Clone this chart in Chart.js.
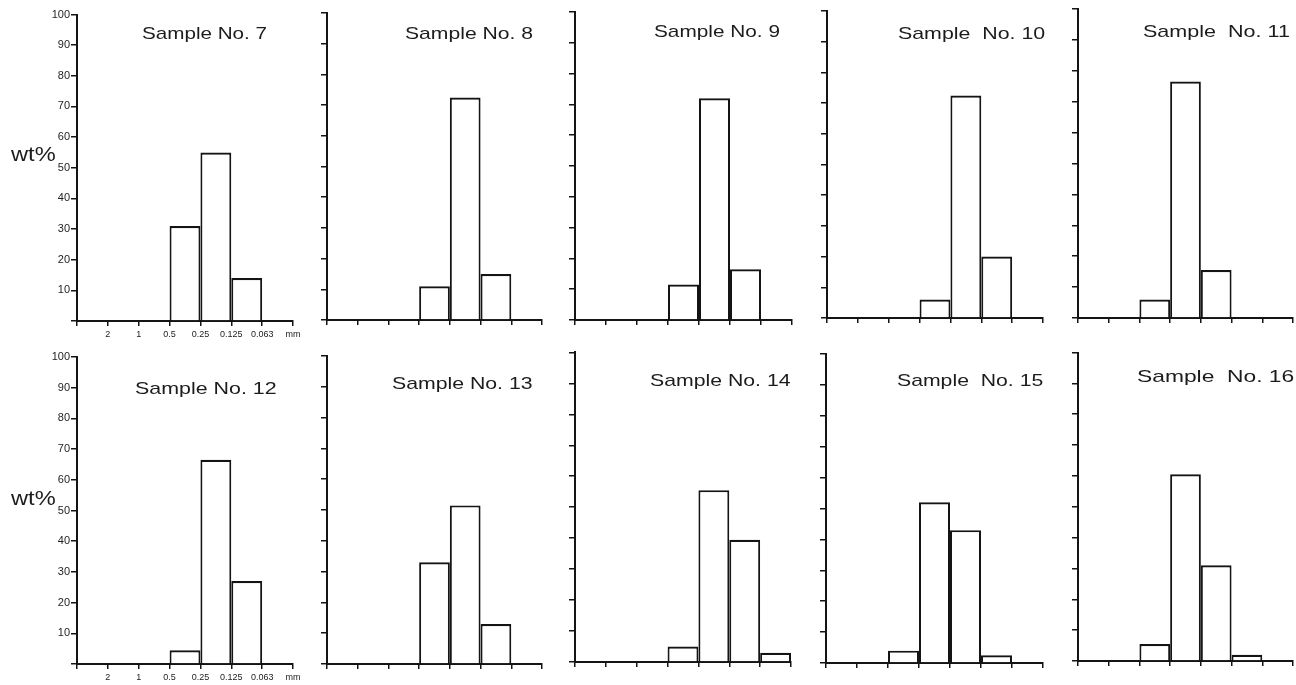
<!DOCTYPE html>
<html>
<head>
<meta charset="utf-8">
<script src="https://cdn.jsdelivr.net/npm/chart.js@4"></script>
<style>
html,body{margin:0;padding:0;background:#fff;overflow:hidden;width:1296px;height:685px}
#stage{position:relative;width:1296px;height:685px;background:#fff;overflow:hidden}
#stage canvas{position:absolute}
.txt{position:absolute;font-family:'Liberation Sans',Arial,Helvetica,sans-serif;color:#1c1c1c;white-space:pre;line-height:1;transform-origin:0 50%}
</style>
</head>
<body>
<div id="stage"></div>
<script>
// ---------- data ----------
const GRAIN_BINS = ['>2', '2–1', '1–0.5', '0.5–0.25', '0.25–0.125', '0.125–0.063', '<0.063'];
const BOUNDARY_TICK_LABELS = ['', '2', '1', '0.5', '0.25', '0.125', '0.063', 'mm'];
const Y_AXIS_LABEL = 'wt%';
const SAMPLE_TITLES = ['Sample No. 7', 'Sample No. 8', 'Sample No. 9', 'Sample  No. 10', 'Sample  No. 11',
                       'Sample No. 12', 'Sample No. 13', 'Sample No. 14', 'Sample  No. 15', 'Sample  No. 16'];
const sample7  = [0, 0, 0, 31,   55,   14,   0];
const sample8  = [0, 0, 0, 11,   72.5, 15,   0];
const sample9  = [0, 0, 0, 11.5, 72,   16.5, 0];
const sample10 = [0, 0, 0, 6,    72.5, 20,   0];
const sample11 = [0, 0, 6, 76.5, 15.5, 0,    0];
const sample12 = [0, 0, 0, 4.5,  66.5, 27,   0];
const sample13 = [0, 0, 0, 33,   51.5, 13,   0];
const sample14 = [0, 0, 0, 5,    55.5, 39.5, 3];
const sample15 = [0, 0, 4, 52,   43,   2.5,  0];
const sample16 = [0, 0, 5.5, 60.5, 31, 2,    0];
const SAMPLE_VALUES = [sample7, sample8, sample9, sample10, sample11,
                       sample12, sample13, sample14, sample15, sample16];

// ---------- layout (pixel geometry of each panel) ----------
const PANEL_LAYOUT = [
  {x0: 77,   x1: 293,  y100: 14.5, y0: 321, rowTop: 0,   tl: 142,  tr: 267,  tc: 35},
  {x0: 327,  x1: 542,  y100: 13,   y0: 320, rowTop: 0,   tl: 405,  tr: 533,  tc: 35},
  {x0: 575,  x1: 792,  y100: 12,   y0: 320, rowTop: 0,   tl: 654,  tr: 780,  tc: 33},
  {x0: 827,  x1: 1043, y100: 11,   y0: 318, rowTop: 0,   tl: 898,  tr: 1045, tc: 35},
  {x0: 1078, x1: 1293, y100: 9,    y0: 318, rowTop: 0,   tl: 1143, tr: 1290, tc: 33},
  {x0: 77,   x1: 293,  y100: 357,  y0: 664, rowTop: 340, tl: 135,  tr: 276,  tc: 390},
  {x0: 327,  x1: 542,  y100: 356,  y0: 664, rowTop: 340, tl: 392,  tr: 532,  tc: 385},
  {x0: 575,  x1: 791,  y100: 352.4,y0: 662, rowTop: 340, tl: 650,  tr: 790,  tc: 382},
  {x0: 826,  x1: 1043, y100: 354,  y0: 663, rowTop: 340, tl: 897,  tr: 1043, tc: 382},
  {x0: 1078, x1: 1293, y100: 352.5,y0: 661, rowTop: 340, tl: 1137, tr: 1294, tc: 378}
];
const WT_LABELS = [{l: 11, r: 56, c: 153.3}, {l: 11, r: 56, c: 497}];

const FONT = "'Liberation Sans', Arial, Helvetica, sans-serif";
const INK = '#141414';
const YW = 72, XH = 22, RP = 14;

const stage = document.getElementById('stage');

function addText(text, size, left, right, centerY, offset) {
  const d = document.createElement('div');
  d.className = 'txt';
  d.textContent = text;
  d.style.fontSize = size + 'px';
  d.style.left = left + 'px';
  d.style.top = (centerY - offset) + 'px';
  stage.appendChild(d);
  const w = d.offsetWidth;
  d.style.transform = 'scaleX(' + ((right - left) / w).toFixed(3) + ')';
}

PANEL_LAYOUT.forEach((p, i) => {
  const firstCol = (i % 5) === 0;
  const cv = document.createElement('canvas');
  const W = YW + (p.x1 - p.x0) + RP;
  const H = Math.ceil(p.y0 - p.rowTop + XH + 2);
  cv.width = W; cv.height = H;
  cv.style.left = (p.x0 - YW) + 'px';
  cv.style.top = p.rowTop + 'px';
  cv.style.width = W + 'px'; cv.style.height = H + 'px';
  stage.appendChild(cv);

  const values = SAMPLE_VALUES[i];
  new Chart(cv, {
    type: 'bar',
    data: {
      datasets: [{
        label: SAMPLE_TITLES[i],
        data: values.map((v, k) => ({x: k + 0.5, y: v, bin: GRAIN_BINS[k]})),
        backgroundColor: '#ffffff',
        borderColor: INK,
        borderWidth: {top: 2.2, left: 2, right: 2, bottom: 0},
        borderSkipped: false,
        barPercentage: 1,
        categoryPercentage: 1,
        inflateAmount: 0
      }]
    },
    options: {
      responsive: false,
      maintainAspectRatio: false,
      animation: false,
      devicePixelRatio: 1,
      layout: {padding: {left: 0, right: RP, top: p.y100 - p.rowTop, bottom: H - (p.y0 - p.rowTop) - XH}},
      plugins: {legend: {display: false}, tooltip: {enabled: false}, title: {display: false}},
      scales: {
        x: {
          type: 'linear', min: 0, max: 7, offset: false,
          grid: {offset: false, drawOnChartArea: false, drawTicks: true, tickLength: 5, color: INK, lineWidth: 1.5},
          border: {display: true, color: INK, width: 2},
          ticks: {display: firstCol, stepSize: 1, autoSkip: false, maxRotation: 0, padding: 3,
                  color: '#222', font: {family: FONT, size: 9},
                  callback: (v) => BOUNDARY_TICK_LABELS[Math.round(v)] ?? ''},
          afterFit: (s) => { s.height = XH; }
        },
        y: {
          type: 'linear', min: 0, max: 100,
          grid: {drawOnChartArea: false, drawTicks: true, tickLength: 6, color: INK, lineWidth: 1.5},
          border: {display: true, color: INK, width: 2},
          ticks: {display: firstCol, stepSize: 10, autoSkip: false, padding: 1,
                  color: '#1e1e1e', font: {family: FONT, size: 11},
                  callback: (v) => v === 0 ? '' : String(v)},
          afterFit: (s) => { s.width = YW; }
        }
      }
    }
  });

  addText(SAMPLE_TITLES[i], 17, p.tl, p.tr, p.tc, 10);
});

WT_LABELS.forEach(w => addText(Y_AXIS_LABEL, 21, w.l, w.r, w.c, 10.5));
</script>
</body>
</html>
